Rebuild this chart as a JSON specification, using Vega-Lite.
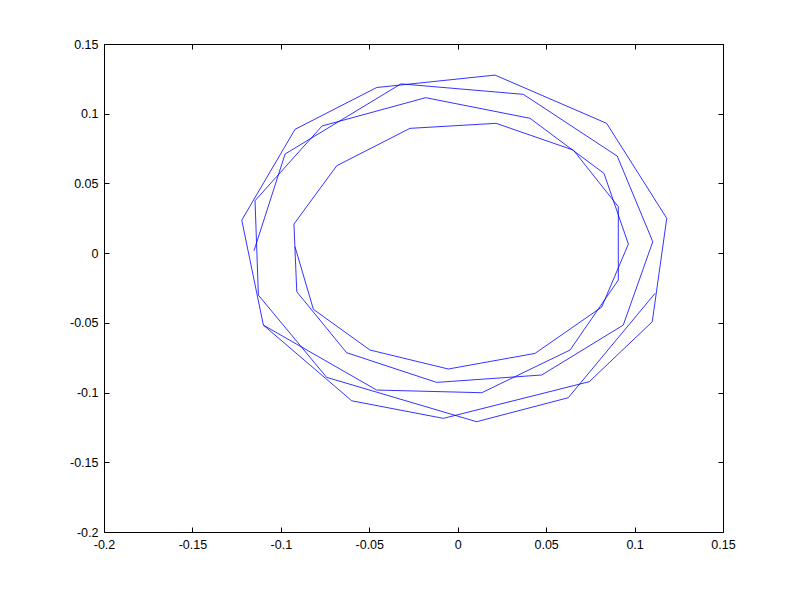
{
  "$schema": "https://vega.github.io/schema/vega-lite/v6.json",
  "width": 619,
  "height": 488,
  "autosize": "none",
  "padding": {"left": 104, "top": 44, "right": 76, "bottom": 67},
  "background": "white",
  "config": {"view": {"stroke": "black", "strokeWidth": 1}, "axis": {"labelFont": "Liberation Sans", "labelFontSize": 12.5, "labelColor": "black", "domainColor": "black", "tickColor": "black", "grid": false, "labelFlush": false, "domain": false, "tickSize": -5, "title": null}},
  "data": {"values": [
    {"s": 1, "i": 0, "x": 0.1116, "y": -0.0288},
    {"s": 1, "i": 1, "x": 0.0625, "y": -0.1037},
    {"s": 1, "i": 2, "x": 0.0107, "y": -0.1209},
    {"s": 1, "i": 3, "x": -0.0741, "y": -0.0891},
    {"s": 1, "i": 4, "x": -0.1127, "y": -0.0301},
    {"s": 1, "i": 5, "x": -0.1146, "y": 0.0376},
    {"s": 1, "i": 6, "x": -0.0767, "y": 0.0912},
    {"s": 1, "i": 7, "x": -0.0181, "y": 0.1115},
    {"s": 1, "i": 8, "x": 0.0409, "y": 0.0967},
    {"s": 1, "i": 9, "x": 0.0827, "y": 0.0572},
    {"s": 1, "i": 10, "x": 0.0965, "y": 0.0065},
    {"s": 1, "i": 11, "x": 0.0814, "y": -0.0387},
    {"s": 1, "i": 12, "x": 0.0437, "y": -0.0719},
    {"s": 1, "i": 13, "x": -0.0053, "y": -0.0831},
    {"s": 1, "i": 14, "x": -0.0496, "y": -0.0695},
    {"s": 1, "i": 15, "x": -0.0816, "y": -0.0403},
    {"s": 1, "i": 16, "x": -0.0920, "y": 0.0046},
    {"s": 2, "i": 0, "x": -0.0458, "y": -0.0982},
    {"s": 2, "i": 1, "x": -0.1099, "y": -0.0516},
    {"s": 2, "i": 2, "x": -0.1221, "y": 0.0237},
    {"s": 2, "i": 3, "x": -0.0920, "y": 0.0888},
    {"s": 2, "i": 4, "x": -0.0458, "y": 0.1188},
    {"s": 2, "i": 5, "x": 0.0211, "y": 0.1277},
    {"s": 2, "i": 6, "x": 0.0842, "y": 0.0931},
    {"s": 2, "i": 7, "x": 0.1182, "y": 0.0250},
    {"s": 2, "i": 8, "x": 0.1100, "y": -0.0492},
    {"s": 2, "i": 9, "x": 0.0744, "y": -0.0922},
    {"s": 2, "i": 10, "x": -0.0081, "y": -0.1185},
    {"s": 2, "i": 11, "x": -0.0599, "y": -0.1059},
    {"s": 2, "i": 12, "x": -0.1099, "y": -0.0516},
    {"s": 3, "i": 0, "x": -0.1152, "y": 0.0017},
    {"s": 3, "i": 1, "x": -0.0976, "y": 0.0711},
    {"s": 3, "i": 2, "x": -0.0321, "y": 0.1214},
    {"s": 3, "i": 3, "x": 0.0371, "y": 0.1139},
    {"s": 3, "i": 4, "x": 0.0902, "y": 0.0696},
    {"s": 3, "i": 5, "x": 0.1103, "y": 0.0082},
    {"s": 3, "i": 6, "x": 0.0936, "y": -0.0516},
    {"s": 3, "i": 7, "x": 0.0475, "y": -0.0874},
    {"s": 3, "i": 8, "x": -0.0119, "y": -0.0927},
    {"s": 3, "i": 9, "x": -0.0628, "y": -0.0714},
    {"s": 3, "i": 10, "x": -0.0910, "y": -0.0277},
    {"s": 3, "i": 11, "x": -0.0926, "y": 0.0209},
    {"s": 3, "i": 12, "x": -0.0684, "y": 0.0627},
    {"s": 3, "i": 13, "x": -0.0270, "y": 0.0895},
    {"s": 3, "i": 14, "x": 0.0217, "y": 0.0931},
    {"s": 3, "i": 15, "x": 0.0654, "y": 0.0739},
    {"s": 3, "i": 16, "x": 0.0908, "y": 0.0333},
    {"s": 3, "i": 17, "x": 0.0908, "y": -0.0193},
    {"s": 3, "i": 18, "x": 0.0635, "y": -0.0695},
    {"s": 3, "i": 19, "x": 0.0136, "y": -0.1001},
    {"s": 3, "i": 20, "x": -0.0458, "y": -0.0982}
  ]},
  "layer": [
    {
      "mark": {"type": "line", "color": "#0000ff", "strokeWidth": 0.8, "clip": true},
      "encoding": {
        "x": {"field": "x", "type": "quantitative", "scale": {"domain": [-0.2, 0.15], "nice": false, "zero": false},
          "axis": {"orient": "bottom", "values": [-0.2, -0.15, -0.1, -0.05, 0, 0.05, 0.1, 0.15], "labelExpr": "datum.value + ''", "labelPadding": 11}},
        "y": {"field": "y", "type": "quantitative", "scale": {"domain": [-0.2, 0.15], "nice": false, "zero": false},
          "axis": {"orient": "left", "values": [-0.2, -0.15, -0.1, -0.05, 0, 0.05, 0.1, 0.15], "labelExpr": "datum.value + ''", "labelPadding": 11}},
        "detail": {"field": "s"},
        "order": {"field": "i", "type": "quantitative"}
      }
    },
    {
      "mark": {"type": "line", "opacity": 0},
      "encoding": {
        "x": {"field": "x", "type": "quantitative", "scale": {"domain": [-0.2, 0.15], "nice": false, "zero": false},
          "axis": {"orient": "top", "values": [-0.2, -0.15, -0.1, -0.05, 0, 0.05, 0.1, 0.15], "labels": false}},
        "y": {"field": "y", "type": "quantitative", "scale": {"domain": [-0.2, 0.15], "nice": false, "zero": false},
          "axis": {"orient": "right", "values": [-0.2, -0.15, -0.1, -0.05, 0, 0.05, 0.1, 0.15], "labels": false}},
        "detail": {"field": "s"},
        "order": {"field": "i", "type": "quantitative"}
      }
    }
  ],
  "resolve": {"axis": {"x": "independent", "y": "independent"}}
}
